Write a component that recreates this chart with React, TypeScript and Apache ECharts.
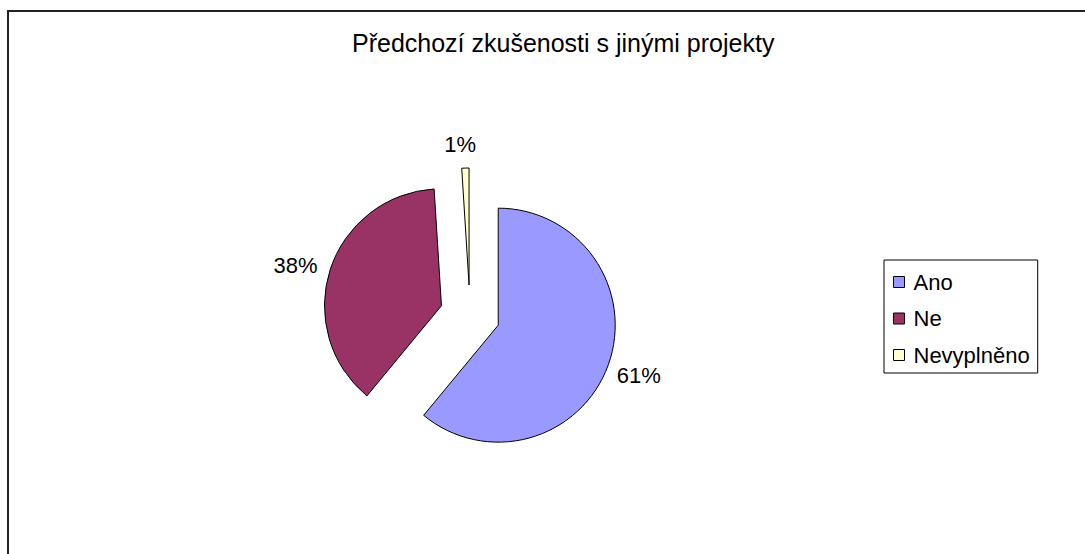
import React, { useEffect, useRef } from "react";
import * as echarts from "echarts";

const title = "Předchozí zkušenosti s jinými projekty";
const categories = ["Ano", "Ne", "Nevyplněno"];
const values = [61, 38, 1];
const colors = ["#9999FF", "#993366", "#FFFFCC"];

export default function App() {
  const ref = useRef<HTMLDivElement>(null);
  useEffect(() => {
    if (!ref.current) return;
    const chart = echarts.init(ref.current, null, { renderer: "svg" });
    const font = "Liberation Sans, Arial, sans-serif";
    chart.setOption({
      animation: false,
      backgroundColor: "#ffffff",
      title: {
        text: title,
        left: 352,
        top: 30,
        padding: 0,
        textStyle: { fontFamily: font, fontSize: 25, fontWeight: "normal", color: "#000" },
      },
      graphic: [
        {
          type: "rect",
          shape: { x: 8, y: 11, width: 1200, height: 700 },
          style: { fill: "none", stroke: "#222", lineWidth: 2 },
          silent: true,
          z: 100,
        },
      ],
      legend: {
        orient: "vertical",
        left: 884,
        top: 260,
        padding: [11, 8, 7, 9],
        borderColor: "#000",
        borderWidth: 1,
        itemWidth: 11,
        itemHeight: 11,
        itemGap: 14.5,
        icon: "rect",
        selectedMode: false,
        itemStyle: { borderColor: "#000", borderWidth: 1 },
        textStyle: { fontFamily: font, fontSize: 22, color: "#000", padding: [0, 0, 0, 4] },
        data: categories,
      },
      series: [
        {
          type: "pie",
          center: [470, 315],
          radius: 117,
          startAngle: 90,
          clockwise: true,
          selectedMode: "multiple",
          selectedOffset: 30,
          avoidLabelOverlap: false,
          itemStyle: { borderColor: "#000", borderWidth: 1 },
          emphasis: { disabled: true },
          label: {
            show: true,
            position: "outside",
            formatter: "{d}%",
            fontFamily: font,
            fontSize: 22,
            color: "#000",
          },
          labelLine: { show: false, length: 8, length2: 0 },
          labelLayout: (p: any) =>
            p.dataIndex === 2
              ? { align: "center", dy: -16 }
              : p.dataIndex === 0
              ? { dx: -4, dy: 8 }
              : { dy: -2 },
          data: categories.map((c, i) => ({
            name: c,
            value: values[i],
            selected: true,
            itemStyle: { color: colors[i] },
          })),
        },
      ],
    });
    return () => chart.dispose();
  }, []);
  return (
    <div
      ref={ref}
      style={{ position: "absolute", left: 0, top: 0, width: 1085, height: 554 }}
    />
  );
}
